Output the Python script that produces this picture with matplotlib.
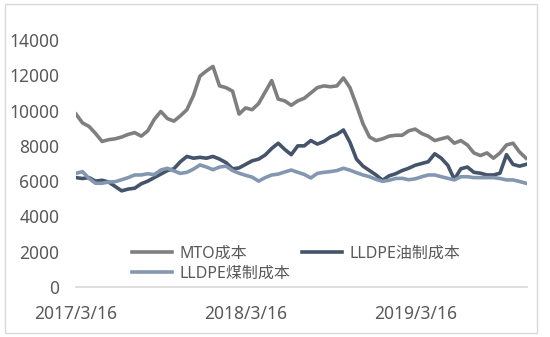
import pandas as pd
import numpy as np
from matplotlib import pyplot as plt
from matplotlib.patches import Rectangle

plt.rcParams['font.family'] = ['Noto Sans', 'Noto Sans CJK SC', 'DejaVu Sans']

# values, one point every two weeks from 2017/3/16
start = "2017-03-16"
mto = [9800, 9300, 9100, 8700, 8250, 8350, 8400, 8500, 8650, 8750,
       8550, 8850, 9500, 9950, 9550, 9400, 9700, 10050, 10850, 11950,
       12250, 12500, 11400, 11300, 11100, 9800, 10150, 10050, 10400, 11050,
       11700, 10650, 10550, 10300, 10550, 10700, 11000, 11300, 11400, 11350,
       11400, 11850, 11300, 10300, 9250, 8500, 8300, 8400, 8550, 8600,
       8600, 8850, 8950, 8700, 8550, 8300, 8400, 8500, 8150, 8300,
       8050, 7600, 7450, 7600, 7300, 7600, 8050, 8150, 7650, 7300]
oil = [6200, 6150, 6200, 6000, 6050, 5950, 5700, 5450, 5550, 5600,
       5850, 6000, 6200, 6400, 6600, 6700, 7100, 7400, 7300, 7350,
       7300, 7400, 7250, 7050, 6700, 6750, 6950, 7150, 7250, 7480,
       7850, 8150, 7800, 7500, 8000, 8000, 8300, 8100, 8250, 8500,
       8650, 8900, 8200, 7250, 6850, 6600, 6350, 6050, 6300, 6420,
       6600, 6730, 6900, 7000, 7100, 7550, 7300, 6900, 6100, 6700,
       6800, 6500, 6450, 6350, 6350, 6450, 7500, 6950, 6850, 6950]
coal = [6440, 6540, 6150, 5880, 5880, 5950, 5970, 6080, 6200, 6350,
        6350, 6420, 6370, 6630, 6730, 6580, 6440, 6500, 6680, 6920,
        6800, 6650, 6800, 6850, 6600, 6450, 6330, 6230, 6000, 6200,
        6350, 6400, 6520, 6630, 6500, 6380, 6180, 6440, 6500, 6540,
        6600, 6730, 6620, 6480, 6350, 6250, 6100, 5990, 6050, 6150,
        6160, 6080, 6130, 6250, 6350, 6350, 6250, 6160, 6070, 6250,
        6250, 6200, 6200, 6200, 6200, 6150, 6070, 6070, 5980, 5880]
names = ["MTO成本", "LLDPE油制成本", "LLDPE煤制成本"]
tick_dates = ["2017-03-16", "2018-03-16", "2019-03-16"]
tick_labels = ["2017/3/16", "2018/3/16", "2019/3/16"]

dates = pd.date_range(start, periods=len(mto), freq="14D")

fig = plt.figure(figsize=(5.5, 3.37), dpi=100)
ax = fig.add_axes([76 / 550, 1 - 287 / 337, 451 / 550, 247 / 337])

l1, = ax.plot(dates, mto, color="#7f7f7f", lw=2.6, solid_joinstyle="round")
l2, = ax.plot(dates, oil, color="#44546a", lw=2.6, solid_joinstyle="round")
l3, = ax.plot(dates, coal, color="#8497b0", lw=2.6, solid_joinstyle="round")

ax.set_ylim(0, 14000)
ax.set_yticks(range(0, 14001, 2000))
ax.set_xlim(dates[0], dates[-1] + pd.Timedelta(days=2))
ax.set_xticks(pd.to_datetime(tick_dates))
ax.set_xticklabels(tick_labels)
ax.tick_params(length=0, labelsize=12.5, colors="#595959")
ax.tick_params(axis="y", pad=12)
ax.tick_params(axis="x", pad=13)
for s in ["top", "right", "left"]:
    ax.spines[s].set_visible(False)
ax.spines["bottom"].set_color("#d9d9d9")
ax.spines["bottom"].set_linewidth(1.2)

fig.legend([l1, l3, l2], [names[0], names[2], names[1]], ncol=2,
           loc="upper left", bbox_to_anchor=(124 / 550, 1 - 238 / 337),
           frameon=False, fontsize=11.5, handlelength=2.5, handletextpad=0.5,
           columnspacing=0.7, labelspacing=0.25, borderpad=0,
           labelcolor="#595959")

fig.patches.append(Rectangle((5 / 550, 4 / 337), 532 / 550, 329 / 337,
                             transform=fig.transFigure, fill=False,
                             edgecolor="#d9d9d9", lw=1))

fig.savefig("out.png", dpi=100)
